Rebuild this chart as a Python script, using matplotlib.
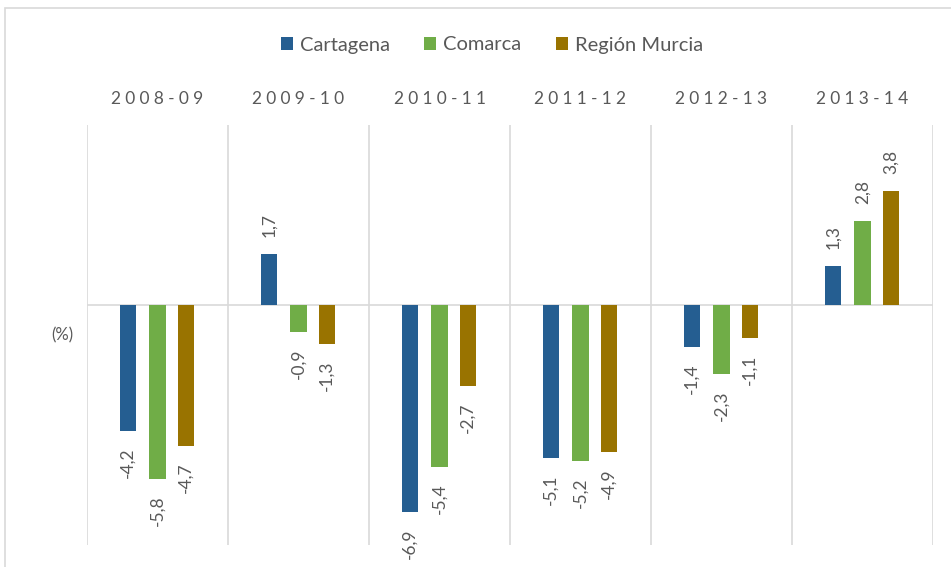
import numpy as np
import matplotlib.pyplot as plt
from matplotlib.patches import Rectangle

periods = ["2008-09", "2009-10", "2010-11", "2011-12", "2012-13", "2013-14"]
series = ["Cartagena", "Comarca", "Región Murcia"]
cartagena = [-4.2, 1.7, -6.9, -5.1, -1.4, 1.3]
comarca = [-5.8, -0.9, -5.4, -5.2, -2.3, 2.8]
murcia = [-4.7, -1.3, -2.7, -4.9, -1.1, 3.8]

colors = ["#255E91", "#70AD47", "#997300"]
grey = "#595959"
grid = "#D9D9D9"

plt.rcParams["font.family"] = ["Lato", "DejaVu Sans"]

fig = plt.figure(figsize=(9.51, 5.67), dpi=100)
ax = fig.add_axes([87 / 951, 22 / 567, 846 / 951, 420 / 567])

x = np.arange(len(periods))
offsets = [-0.21, 0.0, 0.2]
width = 0.115
for vals, off, col, name in zip([cartagena, comarca, murcia], offsets, colors, series):
    bars = ax.bar(x + off, vals, width, color=col, label=name, zorder=3)
    for b, v in zip(bars, vals):
        lbl = f"{v:.1f}".replace(".", ",")
        y = b.get_height()
        ax.annotate(lbl, (b.get_x() + b.get_width() / 2, y),
                    xytext=(0, 12 if v > 0 else -12), textcoords="offset points",
                    rotation=90, ha="center", va="bottom" if v > 0 else "top",
                    fontsize=12.5, color=grey)

ax.set_xlim(-0.5, len(periods) - 0.5)
ax.set_ylim(-8, 6)
ax.axhline(0, color=grid, lw=1.2, zorder=2)
for k in range(len(periods) + 1):
    ax.axvline(k - 0.5, color=grid, lw=1.2, zorder=1)
for s in ax.spines.values():
    s.set_visible(False)
ax.set_xticks([])
ax.set_yticks([])

# period labels above the plot, letter-spaced
for i, p in enumerate(periods):
    ax.text(i, 6.85, "\u2009\u2009".join(p), ha="center", va="center",
            fontsize=12.5, color=grey, clip_on=False)

fig.text(62 / 951, 1 - 335 / 567, "(%)", ha="center", va="center", fontsize=12, color=grey)

fig.legend(loc="center", bbox_to_anchor=(492 / 951, 1 - 45 / 567), ncol=3, frameon=False,
           handlelength=0.6, handleheight=0.6, handletextpad=0.35, columnspacing=1.7,
           fontsize=14.5, labelcolor=grey)

fig.add_artist(Rectangle((5 / 951, -0.1), 1.2, 1.1 - 8 / 567, transform=fig.transFigure,
                         fill=False, edgecolor=grid, lw=1.2))

fig.savefig("out.png", dpi=100)
